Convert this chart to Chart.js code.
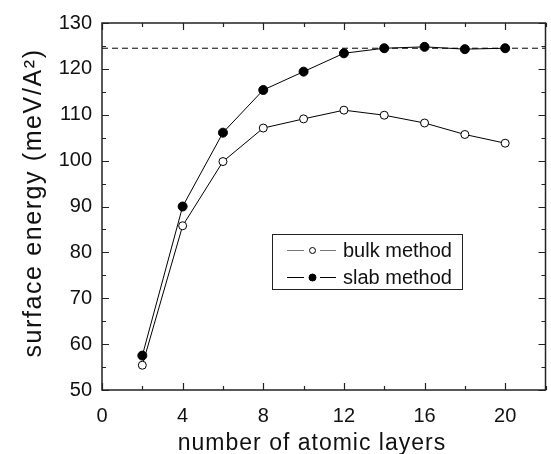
<!DOCTYPE html>
<html>
<head>
<meta charset="utf-8">
<script src="https://cdn.jsdelivr.net/npm/chart.js@4/dist/chart.umd.min.js"></script>
<style>
html,body{margin:0;padding:0;background:#fff;}
#wrap{width:551px;height:454px;position:relative;}
</style>
</head>
<body>
<div id="wrap"><canvas id="c" width="551" height="454"></canvas></div>
<script>
const layers = [2, 4, 6, 8, 10, 12, 14, 16, 18, 20];
const bulkMethod = [55.4, 85.8, 99.8, 107.1, 109.1, 111.0, 109.9, 108.2, 105.7, 103.8];
const slabMethod = [57.5, 90.0, 106.1, 115.4, 119.4, 123.4, 124.5, 124.8, 124.3, 124.5];
const referenceLevel = 124.5;
const xTickValues = [0, 4, 8, 12, 16, 20];
const xMinorValues = [0, 2, 4, 6, 8, 10, 12, 14, 16, 18, 20, 22];
const yTickValues = [50, 60, 70, 80, 90, 100, 110, 120, 130];
const yMinorValues = [50, 55, 60, 65, 70, 75, 80, 85, 90, 95, 100, 105, 110, 115, 120, 125, 130];
const seriesLabels = ['bulk method', 'slab method'];
const xTitle = 'number of atomic layers';
const yTitle = 'surface energy (meV/A²)';

const FONT = 'Liberation Sans, Arial, sans-serif';

const framePlugin = {
  id: 'frame',
  afterDraw(chart) {
    const ctx = chart.ctx, a = chart.chartArea;
    const xs = chart.scales.x, ys = chart.scales.y;
    ctx.save();
    ctx.strokeStyle = '#222';
    ctx.lineWidth = 1.5;
    ctx.strokeRect(a.left, a.top, a.right - a.left, a.bottom - a.top);
    ctx.beginPath();
    xMinorValues.forEach(v => {
      const px = Math.round(xs.getPixelForValue(v)) + 0.5;
      const len = (v % 4 === 0) ? 7 : 4;
      ctx.moveTo(px, a.bottom); ctx.lineTo(px, a.bottom - len);
      ctx.moveTo(px, a.top); ctx.lineTo(px, a.top + len);
    });
    yMinorValues.forEach(v => {
      const py = Math.round(ys.getPixelForValue(v)) + 0.5;
      const len = (v % 10 === 0) ? 7 : 4;
      ctx.moveTo(a.left, py); ctx.lineTo(a.left + len, py);
      ctx.moveTo(a.right, py); ctx.lineTo(a.right - len, py);
    });
    ctx.lineWidth = 1.2;
    ctx.stroke();

    // axis titles
    ctx.fillStyle = '#111';
    ctx.textAlign = 'center';
    ctx.textBaseline = 'alphabetic';
    ctx.font = '23px ' + FONT;
    ctx.letterSpacing = '1px';
    ctx.fillText(xTitle, 312, 450);
    ctx.save();
    ctx.translate(41, 203);
    ctx.rotate(-Math.PI / 2);
    ctx.font = '25px ' + FONT;
    ctx.letterSpacing = '1.6px';
    ctx.fillText(yTitle, 0, 0);
    ctx.restore();
    ctx.letterSpacing = '0px';

    // legend box
    const bx = 272, by = 234, bw = 190, bh = 55;
    ctx.lineWidth = 1;
    ctx.strokeStyle = '#222';
    ctx.strokeRect(bx + 0.5, by + 0.5, bw, bh);
    const rows = [
      {y: 250, label: seriesLabels[0], fill: '#fff', color: '#777', r: 3},
      {y: 277, label: seriesLabels[1], fill: '#000', color: '#000', r: 3.5}
    ];
    rows.forEach(r => {
      ctx.beginPath();
      ctx.strokeStyle = r.color;
      ctx.lineWidth = 1.2;
      ctx.moveTo(287, r.y + 0.5); ctx.lineTo(304, r.y + 0.5);
      ctx.moveTo(320, r.y + 0.5); ctx.lineTo(336, r.y + 0.5);
      ctx.stroke();
      ctx.beginPath();
      ctx.arc(312.5, r.y + 0.5, r.r, 0, Math.PI * 2);
      ctx.fillStyle = r.fill;
      ctx.fill();
      ctx.lineWidth = 1;
      ctx.strokeStyle = '#000';
      ctx.stroke();
      ctx.fillStyle = '#111';
      ctx.font = '20px ' + FONT;
      ctx.textBaseline = 'middle';
      ctx.textAlign = 'left';
      ctx.fillText(r.label, 343, r.y + 1);
    });
    ctx.restore();
  }
};

new Chart(document.getElementById('c'), {
  type: 'line',
  data: {
    datasets: [
      {
        label: seriesLabels[0],
        data: layers.map((x, i) => ({x: x, y: bulkMethod[i]})),
        borderColor: '#000', borderWidth: 1,
        pointRadius: 4, pointBackgroundColor: '#fff', pointBorderColor: '#000', pointBorderWidth: 1,
        tension: 0
      },
      {
        label: seriesLabels[1],
        data: layers.map((x, i) => ({x: x, y: slabMethod[i]})),
        borderColor: '#000', borderWidth: 1,
        pointRadius: 4.5, pointBackgroundColor: '#000', pointBorderColor: '#000', pointBorderWidth: 1,
        tension: 0
      },
      {
        label: 'reference',
        data: [{x: 0, y: referenceLevel}, {x: 22, y: referenceLevel}],
        borderColor: '#000', borderWidth: 1, borderDash: [6, 4],
        pointRadius: 0
      }
    ]
  },
  options: {
    responsive: false,
    animation: false,
    devicePixelRatio: 1,
    layout: {padding: {top: 23, right: 2, left: 0, bottom: 0}},
    plugins: {legend: {display: false}, tooltip: {enabled: false}},
    scales: {
      x: {
        type: 'linear', min: 0, max: 22,
        afterBuildTicks: s => { s.ticks = xTickValues.map(v => ({value: v})); },
        afterFit: s => { s.height = 64; },
        grid: {display: false, drawTicks: false},
        border: {display: false},
        ticks: {color: '#111', font: {family: FONT, size: 20}, padding: 14, maxRotation: 0},
        title: {display: false}
      },
      y: {
        type: 'linear', min: 50, max: 130,
        afterBuildTicks: s => { s.ticks = yTickValues.map(v => ({value: v})); },
        afterFit: s => { s.width = 102; },
        grid: {display: false, drawTicks: false},
        border: {display: false},
        ticks: {color: '#111', font: {family: FONT, size: 20}, padding: 10},
        title: {display: false}
      }
    }
  },
  plugins: [framePlugin]
});
</script>
</body>
</html>
